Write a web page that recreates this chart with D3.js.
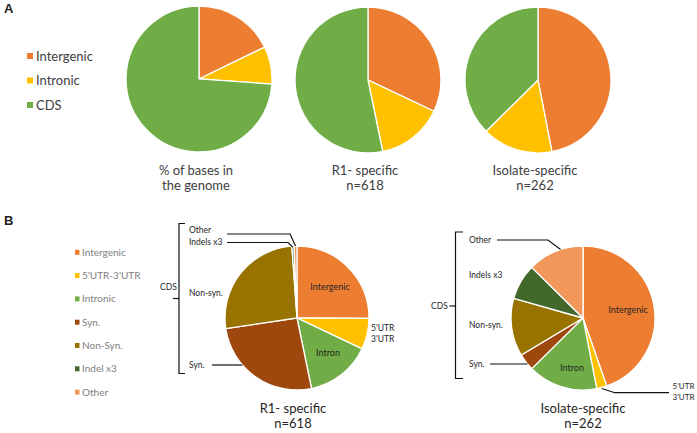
<!DOCTYPE html>
<html><head><meta charset="utf-8">
<script src="https://cdn.jsdelivr.net/npm/d3@7/dist/d3.min.js"></script>
<style>
html,body{margin:0;padding:0;background:#fff;}
svg{display:block;font-family:Lato,"Open Sans",sans-serif;}
</style></head>
<body><svg id="c" width="697" height="433"></svg>
<script>
// ---------- DATA ----------
// Panel A
const catsA = ["Intergenic", "Intronic", "CDS"];
const genomeA = [17.8, 8.3, 73.9];          // % of bases in the genome
const r1A = [198, 91, 329];                  // R1-specific, n=618
const isoA = [123, 41, 98];                  // Isolate-specific, n=262
const titlesA = [["% of bases in", "the genome"], ["R1- specific", "n=618"], ["Isolate-specific", "n=262"]];
// Panel B
const catsB = ["Intergenic", "5'UTR-3'UTR", "Intronic", "Syn.", "Non-Syn.", "Indel x3", "Other"];
const r1B = [155, 43, 91, 160, 162, 3, 4];
const isoB = [117, 6, 41, 10, 34, 21, 33];
const titlesB = [["R1- specific", "n=618"], ["Isolate-specific", "n=262"]];

const colorsA = ["#ED7D31", "#FFC000", "#70AD47"];
const colorsB = ["#ED7D31", "#FFC000", "#70AD47", "#9E480E", "#997300", "#43682B", "#F1975A"];

// ---------- DRAW ----------
const svg = d3.select("#c");
const pie = d3.pie().sort(null).value(d => d);

function drawPie(g, values, colors, r) {
  const arc = d3.arc().innerRadius(0).outerRadius(r);
  g.selectAll("path").data(pie(values)).join("path")
    .attr("d", arc).attr("fill", (d, i) => colors[i])
    .attr("stroke", "#fff").attr("stroke-width", 1.3);
  return arc;
}

// Panel labels
svg.append("text").attr("x", 4).attr("y", 13).text("A")
  .attr("font-family", "Liberation Sans, Arial, sans-serif").attr("font-weight", "bold").attr("font-size", 13).attr("fill", "#222");
svg.append("text").attr("x", 4).attr("y", 225).text("B")
  .attr("font-family", "Liberation Sans, Arial, sans-serif").attr("font-weight", "bold").attr("font-size", 13).attr("fill", "#222");

// Panel A legend
const legA = svg.append("g");
catsA.forEach((c, i) => {
  const y = 56 + i * 24.5;
  legA.append("rect").attr("x", 27).attr("y", y - 3).attr("width", 6).attr("height", 6).attr("fill", colorsA[i]);
  legA.append("text").attr("x", 36).attr("y", y + 4.5).text(c).attr("font-size", 13).attr("fill", "#404040");
});

// Panel A pies
const centersA = [[199, 79], [368, 80], [538, 80]];
[genomeA, r1A, isoA].forEach((vals, k) => {
  const g = svg.append("g").attr("transform", `translate(${centersA[k][0]},${centersA[k][1]})`);
  drawPie(g, vals, colorsA, 73);
  titlesA[k].forEach((t, j) => {
    svg.append("text").attr("x", centersA[k][0] - 3).attr("y", 175 + j * 15).attr("text-anchor", "middle")
      .text(t).attr("font-size", 13).attr("fill", "#404040");
  });
});

// Panel B legend
const legB = svg.append("g");
catsB.forEach((c, i) => {
  const y = 252.3 + i * 23.3;
  legB.append("rect").attr("x", 75).attr("y", y - 2.5).attr("width", 4.5).attr("height", 5).attr("fill", colorsB[i]);
  legB.append("text").attr("x", 82).attr("y", y + 3.5).text(c).attr("font-size", 10).attr("fill", "#7f7f7f");
});

// Panel B pies
const rB = 72;
const centersB = [[297, 318], [583, 318]];
const lab = (x, y, t, size, anchor) => svg.append("text").attr("x", x).attr("y", y).text(t)
  .attr("font-size", size || 8.5).attr("fill", "#262626").attr("text-anchor", anchor || "start");
const line = pts => svg.append("path").attr("d", d3.line()(pts)).attr("fill", "none")
  .attr("stroke", "#111").attr("stroke-width", 1.2);

[r1B, isoB].forEach((vals, k) => {
  const [cx, cy] = centersB[k];
  const g = svg.append("g").attr("transform", `translate(${cx},${cy})`);
  const arcs = pie(vals);
  drawPie(g, vals, colorsB, rB);
  // inside labels
  if (k === 0) {
    lab(cx + 33, cy - 28, "Intergenic", 9, "middle");
    lab(cx + 31, cy + 38, "Intron", 9, "middle");
  } else {
    lab(cx + 45, cy - 5, "Intergenic", 9, "middle");
    lab(cx - 11, cy + 53, "Intron", 9, "middle");
  }
  titlesB[k].forEach((t, j) => {
    svg.append("text").attr("x", cx - (k === 0 ? 4 : 0)).attr("y", 413 + j * 15).attr("text-anchor", "middle")
      .text(t).attr("font-size", 13).attr("fill", "#262626");
  });
  const edgeAt = a => [cx + rB * Math.sin(a), cy - rB * Math.cos(a)];
  const leftEdgeX = y => cx - Math.sqrt(rB * rB - (y - cy) * (y - cy));
  if (k === 0) {
    // bracket
    const bx = 179, bt = 223.5, bb = 373.5, bm = 298.5;
    line([[185, bt], [bx, bt], [bx, bb], [185, bb]]);
    line([[bx, bm], [173, bm]]);
    lab(160, 290, "CDS", 8.5);
    lab(189, 233, "Other"); lab(189, 245, "Indels x3");
    lab(189, 296, "Non-syn."); lab(189, 368, "Syn.");
    const oE = edgeAt(arcs[6].startAngle + (arcs[6].endAngle - arcs[6].startAngle) / 2);
    const iE = edgeAt(arcs[5].startAngle + (arcs[5].endAngle - arcs[5].startAngle) / 2);
    line([[227, 234], [290, 234], [oE[0], oE[1]]]);
    line([[227, 242.5], [288, 242.5], [iE[0], iE[1] + 1]]);
    line([[212, 365], [leftEdgeX(365), 365]]);
    lab(cx + 74, cy + 13, "5'UTR"); lab(cx + 74, cy + 24, "3'UTR");
  } else {
    const bx = 455.5, bt = 232, bb = 378.5, bm = 306;
    line([[463, bt], [bx, bt], [bx, bb], [463, bb]]);
    line([[bx, bm], [449.5, bm]]);
    lab(431, 309, "CDS", 8.5);
    lab(469, 243, "Other"); lab(469, 278, "Indels x3");
    lab(469, 328, "Non-syn."); lab(469, 367, "Syn.");
    const oE = edgeAt(arcs[6].startAngle + (arcs[6].endAngle - arcs[6].startAngle) * 0.6);
    line([[497, 240], [548, 240], [oE[0], oE[1]]]);
    line([[490, 364], [leftEdgeX(364), 364]]);
    const uE = edgeAt((arcs[1].startAngle + arcs[1].endAngle) / 2);
    line([[uE[0], uE[1] + 1], [uE[0] + 13, 392.7], [669, 392.7]]);
    lab(672.5, 389, "5'UTR", 8); lab(672.5, 399.5, "3'UTR", 8);
  }
});
</script></body></html>
